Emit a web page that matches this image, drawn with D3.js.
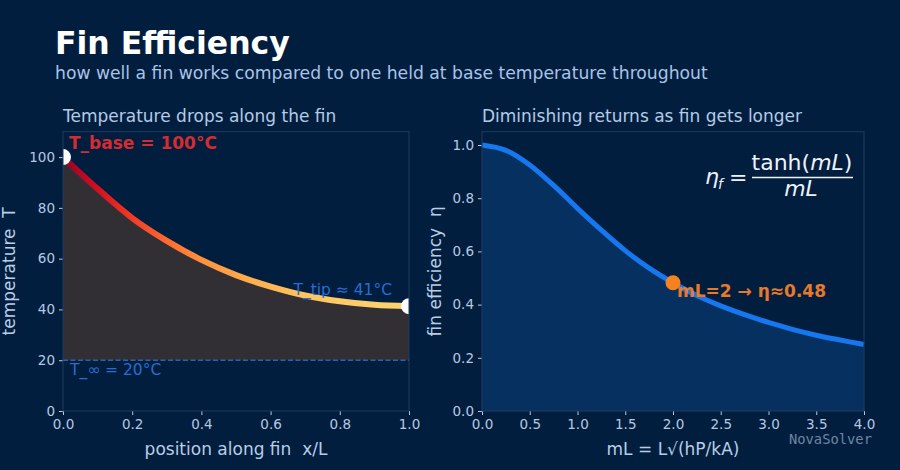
<!DOCTYPE html>
<html lang="en">
<head>
<meta charset="UTF-8">
<title>Fin Efficiency</title>
<script src="https://d3js.org/d3.v7.min.js"></script>
<style>
  body { margin: 0; background: #021e3e; }
  text { font-family: "DejaVu Sans", sans-serif; }
</style>
</head>
<body>
<div id="chart"></div>
<script>
  // left panel: temperature along the fin
  const xPos = [0, 0.1, 0.2, 0.3, 0.4, 0.5, 0.6, 0.7, 0.8, 0.9, 1.0];
  const tempC = [100, 87.5, 76, 67, 59.5, 53.5, 49, 45.5, 43.2, 41.8, 41.3];
  const tInf = 20;
  const xTicksL = [0, 0.2, 0.4, 0.6, 0.8, 1.0];
  const yTicksL = [0, 20, 40, 60, 80, 100];

  // right panel: fin efficiency vs mL
  const mL = [0, 0.25, 0.5, 0.75, 1.0, 1.25, 1.5, 1.75, 2.0, 2.25, 2.5, 2.75, 3.0, 3.25, 3.5, 3.75, 4.0];
  const eta = [1.0, 0.98, 0.925, 0.848, 0.762, 0.68, 0.603, 0.537, 0.482, 0.434, 0.395, 0.362, 0.333, 0.307, 0.285, 0.267, 0.25];
  const markPoint = [2, 0.482];
  const xTicksR = [0, 0.5, 1.0, 1.5, 2.0, 2.5, 3.0, 3.5, 4.0];
  const yTicksR = [0, 0.2, 0.4, 0.6, 0.8, 1.0];

  const W = 900, H = 470;
  const tickCol = "#b7c9e2", frameCol = "#1f3b5f";

  const svg = d3.select("#chart").append("svg")
    .attr("width", W)
    .attr("height", H);

  svg.append("rect").attr("width", W).attr("height", H).attr("fill", "#021e3e");

  const defs = svg.append("defs");

  // titles
  svg.append("text")
    .attr("x", 55).attr("y", 54)
    .attr("fill", "#ffffff")
    .style("font-size", "31.5px").style("font-weight", "bold")
    .text("Fin Efficiency");
  svg.append("text")
    .attr("x", 55).attr("y", 79)
    .attr("fill", "#a9c4e8")
    .style("font-size", "17.2px")
    .text("how well a fin works compared to one held at base temperature throughout");

  // draws ticks, labels and frame for one panel
  function drawAxes(x, y, xTicks, yTicks, yFmt) {
    const [x0, x1] = x.range(), [y0, y1] = y.range();
    const gx = svg.append("g")
      .attr("transform", `translate(0,${y0})`)
      .call(d3.axisBottom(x).tickValues(xTicks).tickFormat(d3.format(".1f")).tickSize(4).tickPadding(4));
    const gy = svg.append("g")
      .attr("transform", `translate(${x0},0)`)
      .call(d3.axisLeft(y).tickValues(yTicks).tickFormat(yFmt).tickSize(4).tickPadding(4));
    [gx, gy].forEach(g => {
      g.select(".domain").remove();
      g.selectAll("line").attr("stroke", tickCol);
      g.selectAll("text").attr("fill", tickCol).style("font-size", "13.5px")
        .style("font-family", "DejaVu Sans");
    });
    svg.append("rect")
      .attr("x", x0).attr("y", y1)
      .attr("width", x1 - x0).attr("height", y0 - y1)
      .attr("fill", "none").attr("stroke", frameCol).attr("stroke-width", 1);
  }

  // ---------- LEFT PANEL ----------
  const xL = d3.scaleLinear().domain([0, 1]).range([63, 409]);
  const yL = d3.scaleLinear().domain([0, 110]).range([411, 131.7]);
  const tempData = xPos.map((d, i) => ({ x: d, t: tempC[i] }));

  defs.append("clipPath").attr("id", "clipL").append("rect")
    .attr("x", 63).attr("y", 131.7).attr("width", 346).attr("height", 411 - 131.7);

  const gL = svg.append("g").attr("clip-path", "url(#clipL)");

  gL.append("path")
    .datum(tempData)
    .attr("fill", "#322f34")
    .attr("d", d3.area().curve(d3.curveCatmullRom)
      .x(d => xL(d.x)).y0(yL(tInf)).y1(d => yL(d.t)));

  gL.append("line")
    .attr("x1", xL(0)).attr("x2", xL(1))
    .attr("y1", yL(tInf)).attr("y2", yL(tInf))
    .attr("stroke", "#2b62ad").attr("stroke-width", 1.5)
    .attr("stroke-dasharray", "5,2.5");

  // colour along the fin follows temperature
  const tMin = d3.min(tempC), tMax = d3.max(tempC);
  const heat = t => d3.interpolateYlOrRd(0.27 + 0.68 * (t - tMin) / (tMax - tMin));
  const grad = defs.append("linearGradient")
    .attr("id", "heatGrad")
    .attr("gradientUnits", "userSpaceOnUse")
    .attr("x1", xL(0)).attr("x2", xL(1)).attr("y1", 0).attr("y2", 0);
  grad.selectAll("stop").data(tempData).enter().append("stop")
    .attr("offset", d => d.x)
    .attr("stop-color", d => heat(d.t));

  gL.append("path")
    .datum(tempData)
    .attr("fill", "none")
    .attr("stroke", "url(#heatGrad)")
    .attr("stroke-width", 6)
    .attr("d", d3.line().curve(d3.curveCatmullRom).x(d => xL(d.x)).y(d => yL(d.t)));

  gL.selectAll(".end-dot")
    .data([tempData[0], tempData[tempData.length - 1]])
    .enter().append("circle")
    .attr("cx", d => xL(d.x)).attr("cy", d => yL(d.t))
    .attr("r", 8).attr("fill", "#ffffff");

  drawAxes(xL, yL, xTicksL, yTicksL, d3.format("d"));

  svg.append("text")
    .attr("x", 69).attr("y", 149)
    .attr("fill", "#d42c30")
    .style("font-size", "17px").style("font-weight", "bold")
    .text("T_base = 100°C");
  svg.append("text")
    .attr("x", 392).attr("y", 295).attr("text-anchor", "end")
    .attr("fill", "#2a6ccf")
    .style("font-size", "15.5px")
    .text("T_tip ≈ 41°C");
  svg.append("text")
    .attr("x", 70).attr("y", 375)
    .attr("fill", "#2a6ccf")
    .style("font-size", "15.5px")
    .text("T_∞ = 20°C");

  svg.append("text")
    .attr("x", 63).attr("y", 122)
    .attr("fill", "#b4cbe6").style("font-size", "17px")
    .text("Temperature drops along the fin");
  svg.append("text")
    .attr("x", 236).attr("y", 455).attr("text-anchor", "middle")
    .attr("fill", "#b9cde6").style("font-size", "17px").style("white-space", "pre")
    .text("position along fin  x/L");
  svg.append("text")
    .attr("transform", `translate(15,${(411 + 131.7) / 2}) rotate(-90)`)
    .attr("text-anchor", "middle")
    .attr("fill", "#b9cde6").style("font-size", "17px").style("white-space", "pre")
    .text("temperature  T");

  // ---------- RIGHT PANEL ----------
  const xR = d3.scaleLinear().domain([0, 4]).range([482, 864]);
  const yR = d3.scaleLinear().domain([0, 1.05]).range([411, 131.7]);
  const effData = mL.map((d, i) => ({ m: d, e: eta[i] }));

  svg.append("path")
    .datum(effData)
    .attr("fill", "#06305f")
    .attr("d", d3.area().curve(d3.curveCatmullRom)
      .x(d => xR(d.m)).y0(yR(0)).y1(d => yR(d.e)));

  svg.append("path")
    .datum(effData)
    .attr("fill", "none")
    .attr("stroke", "#1677ee")
    .attr("stroke-width", 5)
    .attr("d", d3.line().curve(d3.curveCatmullRom).x(d => xR(d.m)).y(d => yR(d.e)));

  svg.append("circle")
    .attr("cx", xR(markPoint[0])).attr("cy", yR(markPoint[1]))
    .attr("r", 7.5).attr("fill", "#f5821f");

  svg.append("text")
    .attr("x", xR(markPoint[0]) + 4).attr("y", yR(markPoint[1]) + 14)
    .attr("fill", "#e8792b")
    .style("font-size", "17px").style("font-weight", "bold")
    .text(`mL=${markPoint[0]} → η≈${markPoint[1].toFixed(2)}`);

  drawAxes(xR, yR, xTicksR, yTicksR, d3.format(".1f"));

  // formula
  const fCol = "#eef2f8";
  const eq = svg.append("g").attr("fill", fCol).style("font-size", "22px");
  eq.append("text").attr("x", 705).attr("y", 184).style("font-style", "italic").text("η");
  eq.append("text").attr("x", 718).attr("y", 189).style("font-size", "14px").style("font-style", "italic").text("f");
  eq.append("text").attr("x", 729).attr("y", 185).text("=");
  const num = eq.append("text").attr("x", 802).attr("y", 170).attr("text-anchor", "middle");
  num.append("tspan").text("tanh(");
  num.append("tspan").style("font-style", "italic").text("mL");
  num.append("tspan").text(")");
  eq.append("line")
    .attr("x1", 752).attr("x2", 853).attr("y1", 177.5).attr("y2", 177.5)
    .attr("stroke", fCol).attr("stroke-width", 1.3);
  eq.append("text").attr("x", 801).attr("y", 196).attr("text-anchor", "middle")
    .style("font-style", "italic").text("mL");

  svg.append("text")
    .attr("x", 482).attr("y", 122)
    .attr("fill", "#b4cbe6").style("font-size", "17px")
    .text("Diminishing returns as fin gets longer");
  svg.append("text")
    .attr("x", 673).attr("y", 455).attr("text-anchor", "middle")
    .attr("fill", "#b9cde6").style("font-size", "17px")
    .text("mL = L√(hP/kA)");
  svg.append("text")
    .attr("transform", `translate(441,${(411 + 131.7) / 2}) rotate(-90)`)
    .attr("text-anchor", "middle")
    .attr("fill", "#b9cde6").style("font-size", "17px").style("white-space", "pre")
    .text("fin efficiency  η");

  svg.append("text")
    .attr("x", 872).attr("y", 444).attr("text-anchor", "end")
    .attr("fill", "#6f86a4")
    .style("font-size", "13.8px").style("font-family", "DejaVu Sans Mono")
    .text("NovaSolver");
</script>
</body>
</html>
